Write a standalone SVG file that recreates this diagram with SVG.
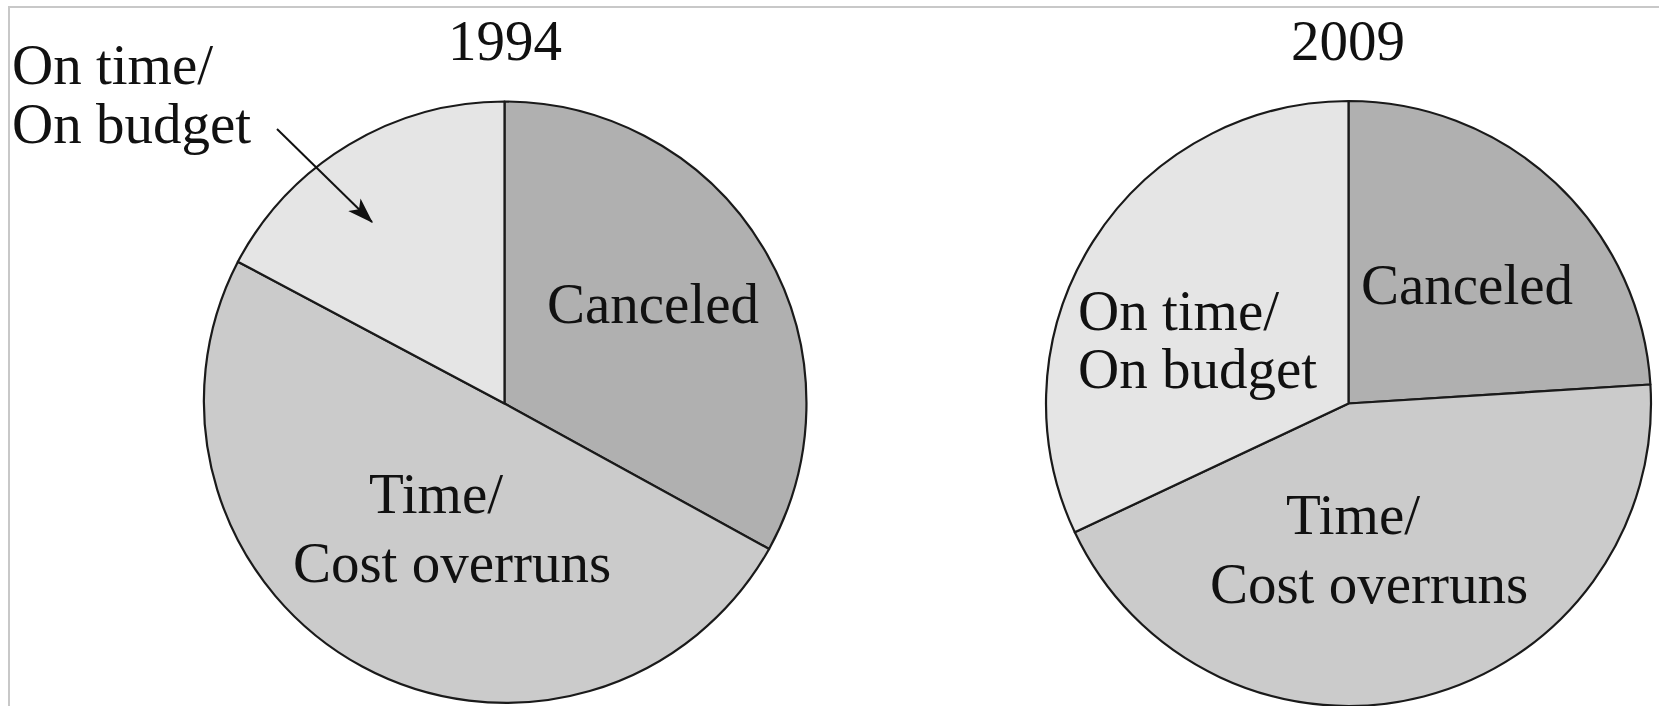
<svg xmlns="http://www.w3.org/2000/svg" width="1659" height="706" viewBox="0 0 1659 706">
  <defs>
    <style>
      .lbl { font-family: "Liberation Serif", "Times New Roman", serif; font-size: 57px; fill: #111; }
      .slice { stroke: #1a1a1a; stroke-width: 2.2; stroke-linejoin: round; }
      .cancel { fill: #b0b0b0; }
      .over { fill: #cbcbcb; }
      .ontime { fill: #e5e5e5; }
      .frame { stroke: #c8c8c8; stroke-width: 2; fill: none; }
    </style>
    <marker id="arrowhead" viewBox="0 0 10 10" refX="9.5" refY="5" markerWidth="26" markerHeight="26" markerUnits="userSpaceOnUse" orient="auto">
      <path d="M0,1.6 L10,5 L0,8.4 L2.5,5 Z" fill="#111"/>
    </marker>
  </defs>
  <rect width="1659" height="706" fill="#ffffff"/>
  <path class="frame" d="M9,706 L9,7 L1659,7"/>

  <g id="pie-1994">
    <path class="slice cancel" d="M504.5,403.5 L504.5,101.5 A302,302 0 0 1 769.1,549.0 Z"/>
    <path class="slice over" d="M504.5,403.5 L769.1,549.0 A302,302 0 0 1 237.9,261.7 Z"/>
    <path class="slice ontime" d="M504.5,403.5 L237.9,261.7 A302,302 0 0 1 504.5,101.5 Z"/>
    <text class="lbl" x="505" y="60" text-anchor="middle">1994</text>
    <text class="lbl" x="653" y="323" text-anchor="middle">Canceled</text>
    <text class="lbl" x="436" y="513" text-anchor="middle">Time/</text>
    <text class="lbl" x="452" y="582" text-anchor="middle">Cost overruns</text>
    <text class="lbl" x="12" y="84">On time/</text>
    <text class="lbl" x="12" y="143">On budget</text>
  </g>

  <g id="pie-2009">
    <path class="slice cancel" d="M1348.5,403.5 L1348.5,101 A302.5,302.5 0 0 1 1650.4,384.5 Z"/>
    <path class="slice over" d="M1348.5,403.5 L1650.4,384.5 A302.5,302.5 0 0 1 1074.8,532.3 Z"/>
    <path class="slice ontime" d="M1348.5,403.5 L1074.8,532.3 A302.5,302.5 0 0 1 1348.5,101 Z"/>
    <text class="lbl" x="1348" y="60" text-anchor="middle">2009</text>
    <text class="lbl" x="1467" y="304" text-anchor="middle">Canceled</text>
    <text class="lbl" x="1078" y="330">On time/</text>
    <text class="lbl" x="1078" y="388">On budget</text>
    <text class="lbl" x="1353" y="534" text-anchor="middle">Time/</text>
    <text class="lbl" x="1369" y="603" text-anchor="middle">Cost overruns</text>
  </g>

  <g id="connectors">
    <line x1="277" y1="129" x2="372" y2="222" stroke="#111" stroke-width="2" marker-end="url(#arrowhead)"/>
  </g>
</svg>
